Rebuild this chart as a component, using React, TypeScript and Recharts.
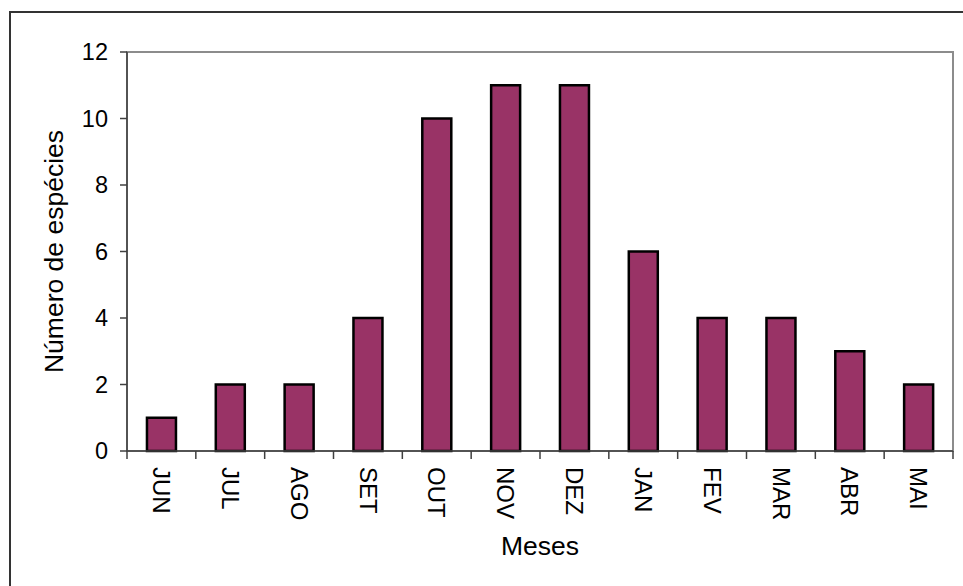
import { Bar, BarChart, Label, ReferenceArea, XAxis, YAxis } from "recharts";

const MONTHS = ["JUN", "JUL", "AGO", "SET", "OUT", "NOV", "DEZ", "JAN", "FEV", "MAR", "ABR", "MAI"];
const SPECIES = [1, 2, 2, 4, 10, 11, 11, 6, 4, 4, 3, 2];
const Y_TICKS = [0, 2, 4, 6, 8, 10, 12];

const data = MONTHS.map((month, i) => ({ month, count: SPECIES[i] }));

const FONT = '"Liberation Sans", Arial, sans-serif';
const AXIS_COLOR = "#404040";

function MonthTick(props: any) {
  const { x, y, payload, index } = props;
  const half = payload?.offset ?? 0;
  const isLast = index === MONTHS.length - 1;
  return (
    <g>
      <line x1={x - half} y1={y - 8} x2={x - half} y2={y} stroke={AXIS_COLOR} strokeWidth={1.5} />
      {isLast && <line x1={x + half} y1={y - 8} x2={x + half} y2={y} stroke={AXIS_COLOR} strokeWidth={1.5} />}
      <text
        x={x}
        y={y + 8}
        transform={`rotate(90 ${x} ${y + 8})`}
        textAnchor="start"
        dy="0.35em"
        fontSize={24}
        fontFamily={FONT}
        fill="#000"
      >
        {payload.value}
      </text>
    </g>
  );
}

function YTitle(props: any) {
  const { viewBox } = props;
  const cx = viewBox.x + 7;
  const cy = viewBox.y + viewBox.height / 2;
  return (
    <text
      x={cx}
      y={cy}
      transform={`rotate(-90 ${cx} ${cy})`}
      textAnchor="middle"
      dy="0.35em"
      fontSize={26.5}
      fontFamily={FONT}
      fill="#000"
    >
      Número de espécies
    </text>
  );
}

export default function App() {
  return (
    <div
      style={{
        position: "absolute",
        left: 0,
        top: 0,
        width: 963,
        height: 586,
        overflow: "hidden",
        background: "#fff",
      }}
    >
      <div
        style={{
          position: "absolute",
          left: 9,
          top: 11,
          width: 1000,
          height: 700,
          border: "2px solid #333",
        }}
      />
      <div style={{ position: "absolute", left: 0, top: 0 }}>
        <BarChart
          width={963}
          height={586}
          data={data}
          margin={{ top: 52, right: 10, left: 47, bottom: 25 }}
          barCategoryGap="29%"
        >
          <ReferenceArea y1={0} y2={12} fill="none" stroke="#8c8c8c" strokeWidth={2} ifOverflow="visible" />
          <XAxis
            dataKey="month"
            height={110}
            interval={0}
            tickLine={false}
            tickSize={8}
            tickMargin={0}
            tick={<MonthTick />}
            axisLine={{ stroke: AXIS_COLOR, strokeWidth: 1.5 }}
          >
            <Label
              value="Meses"
              position="insideBottom"
              offset={6}
              style={{ fontSize: 26.5, fontFamily: FONT, fill: "#000" }}
            />
          </XAxis>
          <YAxis
            width={80}
            domain={[0, 12]}
            ticks={Y_TICKS}
            interval={0}
            tickSize={7}
            tickMargin={12}
            tick={{ fontSize: 23.5, fontFamily: FONT, fill: "#000" }}
            tickLine={{ stroke: AXIS_COLOR, strokeWidth: 1.5 }}
            axisLine={{ stroke: AXIS_COLOR, strokeWidth: 1.5 }}
          >
            <Label content={<YTitle />} />
          </YAxis>
          <Bar
            dataKey="count"
            fill="#993366"
            stroke="#000"
            strokeWidth={2.5}
            isAnimationActive={false}
          />
        </BarChart>
      </div>
    </div>
  );
}
